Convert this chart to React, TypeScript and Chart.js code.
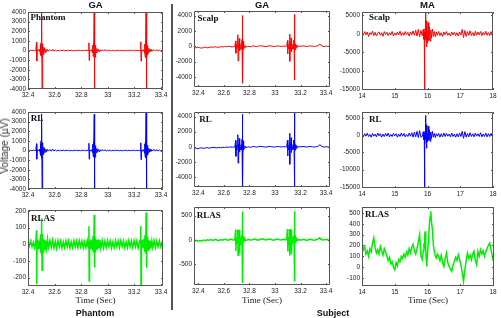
import React, { useEffect, useRef } from "react";
import { Chart, registerables } from "chart.js";

Chart.register(...registerables);

// ---------------- DATA ----------------
// Phantom recording (GA window), seconds
const phantomTime = [
  32.400, 32.410, 32.420, 32.430, 32.440, 32.450,
  32.459, 32.464, 32.466, 32.468, 32.470, 32.474, 32.479, 32.484, 32.488, 32.492,
  32.494, 32.496, 32.498, 32.500, 32.502, 32.504, 32.506, 32.508, 32.510, 32.512,
  32.514, 32.517, 32.520, 32.524, 32.529, 32.534, 32.540, 32.547, 32.554,
  32.565, 32.575, 32.585, 32.595, 32.605, 32.615, 32.625, 32.635, 32.645, 32.655,
  32.665, 32.675, 32.685, 32.695, 32.705, 32.715, 32.725, 32.735, 32.745, 32.755,
  32.765, 32.775, 32.785, 32.795, 32.805, 32.815, 32.825, 32.835, 32.845,
  32.853, 32.858, 32.860, 32.862, 32.864, 32.868, 32.873, 32.878, 32.882, 32.886,
  32.888, 32.890, 32.892, 32.894, 32.896, 32.898, 32.900, 32.902, 32.904, 32.906,
  32.908, 32.911, 32.914, 32.918, 32.923, 32.928, 32.934, 32.941, 32.948,
  32.958, 32.968, 32.978, 32.988, 32.998, 33.008, 33.018, 33.028, 33.038, 33.048,
  33.058, 33.068, 33.078, 33.088, 33.098, 33.108, 33.118, 33.128, 33.138, 33.148,
  33.158, 33.168, 33.178, 33.188, 33.198, 33.208, 33.218, 33.228, 33.238,
  33.243, 33.248, 33.250, 33.252, 33.254, 33.258, 33.263, 33.268, 33.272, 33.276,
  33.278, 33.280, 33.282, 33.284, 33.286, 33.288, 33.290, 33.292, 33.294, 33.296,
  33.298, 33.301, 33.304, 33.308, 33.313, 33.318, 33.324, 33.331, 33.338,
  33.348, 33.358, 33.368, 33.378, 33.388, 33.398, 33.408, 33.418,
];

const phantomGAValues = [
  20, -30, 40, -20, 30, -40,
  30, 850, -1100, -150, 60, -40, 80, -60, 150, -300, 600, -500, 800, -700, 400, 5000, -5000, 700, -650, 500,
  -450, 350, -300, 250, -200, 150, -120, 100, -60,
  90, -60, 120, -80, 60, -40, 30, -50, 40, -20, 30, -40, 20, -30, 40, -20, 30, -30, 20, -40,
  30, -20, 40, -30, 20, -30, 40, -20, 30,
  20, 800, -1050, -100, 50, -30, 60, -80, 120, -250, 550, -600, 750, -650, 350, 5000, -5000, 650, -700, 550,
  -400, 300, -250, 200, -180, 120, -100, 80, -50,
  80, -70, 100, -60, 50, -40, 40, -30, 30, -40, 20, -30, 40, -20, 30, -30, 20, -40, 30, -20,
  40, -30, 20, -30, 40, -20, 30, -20, 30,
  -20, 900, -1100, -120, 40, -50, 70, -50, 100, -280, 650, -550, 850, -750, 380, 5000, -5000, 750, -600, 520,
  -480, 330, -280, 230, -150, 130, -90, 70, -40,
  90, -60, 70, -50, 40, -30, 30, -20,
];

const phantomRLValues = [
  10, -40, 30, -30, 40, -20,
  20, 700, -900, -100, 50, -40, 80, -60, 150, -300, 700, -500, 1000, -800, 400, 3800, -3900, 800, -650, 500,
  -400, 350, -300, 220, -180, 150, -120, 100, -60,
  110, -80, 140, -60, 70, -50, 40, -40, 30, -30, 40, -30, 30, -20, 30, -40, 20, -30, 40, -20,
  30, -30, 20, -30, 40, -20, 30, -40, 20,
  30, 750, -900, -120, 60, -30, 60, -80, 120, -250, 650, -600, 900, -700, 350, 3750, -3950, 700, -700, 500,
  -400, 300, -250, 200, -160, 120, -100, 80, -50,
  100, -60, 80, -70, 40, -50, 30, -40, 30, -30, 40, -20, 30, -30, 20, -40, 30, -20, 40, -30,
  20, -30, 30, -20, 40, -30, 20, -30, 20,
  -20, 800, -950, -120, 40, -50, 70, -50, 100, -280, 700, -550, 950, -750, 380, 3900, -4000, 750, -600, 520,
  -480, 330, -280, 230, -150, 130, -90, 70, -40,
  120, -80, 90, -60, 50, -40, 30, -20,
];

const phantomRLASValues = [
  15, -12, 20, -15, 12, -20,
  20, 83, -240, 30, -20, 25, -30, 20, -25, 40, -50, 60, -40, 50, -60, 156, -155, 60, -50, 40,
  -45, 30, -35, 25, -30, 20, -25, 30, -20,
  22, -18, 25, -22, 18, -25, 22, -15, 20, -22, 15, -20, 22, -15, 20, -22, 15, -20, 22, -15,
  20, -20, 22, -15, 20, -22, 15, -20, 22,
  -20, 107, -220, 30, -25, 20, -30, 25, -20, 35, -40, 50, -45, 40, -50, 176, -140, 50, -45, 40,
  -30, 35, -30, 25, -25, 30, -20, 25, -25,
  22, -22, 20, -20, 22, -15, 20, -22, 15, -20, 22, -15, 20, -20, 22, -15, 20, -22, 15, -20,
  22, -15, 20, -20, 22, -15, 20, -22, 15,
  25, 107, -240, 25, -30, 25, -20, 30, -25, 40, -45, 55, -50, 45, -55, 190, -140, 55, -50, 45,
  -40, 30, -35, 25, -30, 20, -25, 20, -20,
  22, -20, 20, -15, 20, -15, 15, -12,
];

// Subject recording (GA window), seconds
const subjectTime = [
  32.366, 32.380, 32.395, 32.410, 32.425, 32.440, 32.455, 32.470, 32.485, 32.500,
  32.515, 32.530, 32.545, 32.560, 32.575, 32.590, 32.605, 32.620, 32.635, 32.650,
  32.665, 32.678,
  32.686, 32.692, 32.694, 32.696, 32.700, 32.706, 32.709, 32.711, 32.714, 32.718,
  32.720, 32.722, 32.726, 32.731, 32.736, 32.740, 32.742, 32.744, 32.746, 32.748,
  32.750, 32.753, 32.756, 32.760, 32.765, 32.771,
  32.783, 32.797, 32.811, 32.825, 32.840, 32.855, 32.870, 32.885, 32.900, 32.915,
  32.930, 32.945, 32.960, 32.975, 32.990, 33.005, 33.020, 33.035, 33.050, 33.065,
  33.080,
  33.092, 33.098, 33.100, 33.102, 33.106, 33.112, 33.115, 33.117, 33.120, 33.124,
  33.126, 33.128, 33.132, 33.137, 33.142, 33.146, 33.148, 33.150, 33.152, 33.154,
  33.156, 33.159, 33.162, 33.166, 33.171, 33.177,
  33.190, 33.205, 33.220, 33.235, 33.250, 33.265, 33.280, 33.295, 33.310, 33.325,
  33.340, 33.350, 33.360, 33.375, 33.390, 33.405, 33.420, 33.432,
];

const subjectGAValues = [
  -150, -200, -120, -180, -250, -150, -100, -200, -150, -80,
  -120, -60, -100, -150, -50, -80, -20, -60, 0, -40,
  -80, -30,
  -50, 700, -900, 200, -300, 300, 1500, -1900, 400, -400,
  1000, -600, 300, -400, 350, -300, 900, -400, 4000, -4800,
  700, -400, 300, -200, 100, -80,
  -50, 0, -80, 50, 20, -40, 30, 80, 40, 0,
  -50, 30, 60, 20, -30, 0, 50, 20, -20, 40,
  0,
  0, 750, -1000, 200, -350, 300, 1600, -1950, 450, -400,
  1100, -700, 350, -400, 300, -350, 800, -400, 4150, -4400,
  700, -450, 300, -200, 150, -60,
  40, 0, 60, 20, -30, 30, 50, 0, -20, 30,
  100, 300, 150, 0, -30, 20, -20, 10,
];

const subjectRLValues = [
  -200, -150, -250, -180, -120, -200, -150, -100, -180, -120,
  -60, -100, -140, -80, -120, -50, -90, -30, -60, -10,
  -50, -20,
  -30, 850, -1250, 200, -350, 300, 1600, -2150, 400, -450,
  1100, -700, 350, -400, 300, -350, 1000, -450, 4300, -5600,
  800, -450, 300, -200, 100, -80,
  -40, 10, -70, 40, 20, -30, 30, 70, 30, 0,
  -40, 30, 50, 20, -30, 0, 40, 20, -20, 30,
  0,
  0, 900, -1200, 200, -400, 300, 1800, -2300, 450, -400,
  1200, -750, 350, -400, 300, -350, 900, -450, 4700, -5600,
  800, -450, 300, -200, 150, -60,
  30, 0, 50, 20, -30, 30, 40, 0, -20, 30,
  100, 300, 150, 0, -30, 20, -20, 10,
];

const subjectRLASValues = [
  -20, -10, -30, -15, -25, -5, -20, 0, -10, 5,
  -15, 10, -5, -20, 5, -10, 10, 0, -10, 15,
  0, -5,
  0, 210, -230, 20, -40, 30, 210, -320, 40, -30,
  200, -280, 40, -50, 30, -40, 80, -60, 580, -890,
  80, -50, 30, -20, 15, -10,
  -5, 10, -10, 5, 15, 0, -10, 10, 20, 5,
  -5, 10, 15, 0, -10, 5, 15, 0, -5, 10,
  0,
  0, 220, -240, 20, -40, 30, 220, -330, 40, -30,
  210, -290, 40, -50, 30, -40, 80, -60, 590, -860,
  80, -50, 30, -20, 15, -10,
  5, -10, 10, 0, -15, 5, 10, -5, -10, 5,
  20, 40, 10, -5, 0, 10, -10, 5,
];

// Subject recording (MA window), seconds
const maTime = [
  14.00, 14.04, 14.08, 14.12, 14.16, 14.20, 14.24, 14.28, 14.32, 14.36,
  14.40, 14.44, 14.48, 14.52, 14.56, 14.60, 14.64, 14.68, 14.72, 14.76,
  14.80, 14.84, 14.88, 14.92, 14.96, 15.00, 15.04, 15.08, 15.12, 15.16,
  15.20, 15.24, 15.28, 15.32, 15.36, 15.40, 15.44, 15.48, 15.52, 15.56,
  15.60, 15.64, 15.68, 15.72, 15.76, 15.80,
  15.84, 15.87, 15.89, 15.90, 15.91, 15.92, 15.93, 15.94, 15.95, 15.96,
  15.97, 15.98, 16.00, 16.02, 16.04, 16.06, 16.08, 16.10, 16.12, 16.15,
  16.18, 16.21, 16.24, 16.27, 16.30,
  16.34, 16.38, 16.42, 16.46, 16.50, 16.54, 16.58, 16.62, 16.66, 16.70,
  16.74, 16.78, 16.82, 16.86, 16.90, 16.94, 16.98, 17.02, 17.06, 17.10,
  17.14, 17.18, 17.22, 17.26, 17.30, 17.34, 17.38, 17.42, 17.46, 17.50,
  17.54, 17.58, 17.62, 17.66, 17.70, 17.74, 17.78, 17.82, 17.86, 17.90,
  17.94, 17.98, 18.00,
];

const maScalpValues = [
  200, -400, 600, -300, 500, -700, 300, -200, 700, -500,
  400, -600, 200, 500, -400, 300, -700, 600, -200, 400,
  -500, 300, -300, 600, -600, 200, -400, 500, -300, 700,
  -500, 300, -400, 600, -200, 400, -600, 500, -300, 800,
  -400, 1000, -600, 1200, -800, 900,
  -500, 1200, -1500, 500, -15000, -2000, 1500, 5800, -1500, 3500,
  -3500, 2500, -2500, 3000, -1800, 1800, -2000, 1000, -1200, 1300,
  -700, 600, -800, 500, -400,
  600, -500, 300, -700, 500, -300, 600, -400, 200, -600,
  500, -300, 400, -500, 300, -600, 500, -300, 1200, -1000,
  900, -700, 600, -400, 800, -500, 300, -600, 700, -400,
  500, -300, 600, -500, 400, -300, 700, -400, 300, -500,
  600, -200, 300,
];

const maRLValues = [
  100, -500, 400, -300, 600, -400, 200, -600, 500, -300,
  300, -500, 600, -200, 400, -600, 300, -400, 500, -300,
  600, -500, 200, -400, 500, -200, 400, -600, 300, -400,
  600, -300, 500, -500, 200, -400, 600, -300, 700, -600,
  900, -500, 1100, -700, 1300, -600,
  -400, 1000, -1300, 600, -15000, -2500, 1200, 5700, -1200, 3000,
  -3800, 2200, -2000, 2600, -1500, 1500, -1800, 900, -1000, 1100,
  -600, 500, -700, 400, -300,
  500, -600, 400, -500, 600, -400, 500, -300, 300, -500,
  600, -400, 300, -600, 400, -500, 600, -400, 1100, -900,
  1000, -600, 500, -500, 700, -400, 400, -500, 600, -300,
  400, -400, 700, -500, 300, -400, 600, -500, 400, -400,
  500, -300, 200,
];

const maRLASValues = [
  210, 160, 190, 120, 150, 100, 170, 140, 220, 270,
  180, 130, 160, 120, 190, 150, 110, 170, 140, 100,
  60, 90, 30, 50, 0, -25, 40, 10, 70, 50,
  100, 80, 120, 90, 140, 110, 170, 130, 180, 210,
  150, 120, 170, 230, 300, 100,
  70, 150, 220, 180, 260, 300, 330, 250, 150, 80,
  30, 6, 120, 220, 300, 407, 470, 516, 420, 345,
  200, 145, 100, 83, 120,
  99, 60, 110, 40, 6, 80, 130, 40, 6, -20,
  -40, 20, 53, 90, 60, 114, 70, 21, -50, -132,
  -25, 60, 130, 80, 110, 68, 120, 145, 60, 21,
  145, 100, 160, 120, 150, 99, 140, 176, 200, 222,
  160, 99, 60,
];

// Tick values
const gaTimeTicks = [32.4, 32.6, 32.8, 33, 33.2, 33.4];
const maTimeTicks = [14, 15, 16, 17, 18];
const phantomVoltTicks = [-4000, -3000, -2000, -1000, 0, 1000, 2000, 3000, 4000];
const phantomRLASTicks = [-200, -100, 0, 100, 200];
const subjectVoltTicks = [-4000, -2000, 0, 2000, 4000];
const subjectRLASTicks = [-500, 0, 500];
const maVoltTicks = [-15000, -10000, -5000, 0, 5000];
const maRLASTicks = [-100, 0, 100, 200, 300, 400, 500];

// ---------------- LAYOUT ----------------
const SANS = "'Liberation Sans', Arial, Helvetica, sans-serif";
const SERIF = "'Liberation Serif', 'Times New Roman', serif";
const PAD_L = 34;
const PAD_T = 6;
const PAD_R = 10;
const PAD_B = 14;

type PanelSpec = {
  key: string;
  left: number; top: number; right: number; bottom: number;
  time: number[]; values: number[];
  xMin: number; xMax: number; xTicks: number[];
  yMin: number; yMax: number; yTicks: number[];
  color: string; lineWidth: number;
  label: string; labelX: number; labelY: number;
};

const RED = "#ff0000";
const BLUE = "#0000ff";
const GREEN = "#00ee00";

const panels: PanelSpec[] = [
  { key: "p1", left: 28, top: 12, right: 163, bottom: 89, time: phantomTime, values: phantomGAValues,
    xMin: 32.4, xMax: 33.415, xTicks: gaTimeTicks, yMin: -4000, yMax: 4000, yTicks: phantomVoltTicks,
    color: RED, lineWidth: 1, label: "Phantom", labelX: 30.5, labelY: 17 },
  { key: "p2", left: 194, top: 11, right: 330, bottom: 87, time: subjectTime, values: subjectGAValues,
    xMin: 32.366, xMax: 33.431, xTicks: gaTimeTicks, yMin: -5300, yMax: 4600, yTicks: subjectVoltTicks,
    color: RED, lineWidth: 1, label: "Scalp", labelX: 197.5, labelY: 18.3 },
  { key: "p3", left: 362, top: 12, right: 493, bottom: 90, time: maTime, values: maScalpValues,
    xMin: 14, xMax: 18, xTicks: maTimeTicks, yMin: -15200, yMax: 5900, yTicks: maVoltTicks,
    color: RED, lineWidth: 1, label: "Scalp", labelX: 369, labelY: 17.3 },
  { key: "p4", left: 28, top: 112, right: 163, bottom: 189, time: phantomTime, values: phantomRLValues,
    xMin: 32.4, xMax: 33.415, xTicks: gaTimeTicks, yMin: -4000, yMax: 4000, yTicks: phantomVoltTicks,
    color: BLUE, lineWidth: 1, label: "RL", labelX: 30.7, labelY: 118.3 },
  { key: "p5", left: 194, top: 112, right: 330, bottom: 187, time: subjectTime, values: subjectRLValues,
    xMin: 32.366, xMax: 33.431, xTicks: gaTimeTicks, yMin: -5300, yMax: 4600, yTicks: subjectVoltTicks,
    color: BLUE, lineWidth: 1, label: "RL", labelX: 199.3, labelY: 119.3 },
  { key: "p6", left: 362, top: 112, right: 493, bottom: 188, time: maTime, values: maRLValues,
    xMin: 14, xMax: 18, xTicks: maTimeTicks, yMin: -15300, yMax: 6700, yTicks: maVoltTicks,
    color: BLUE, lineWidth: 1, label: "RL", labelX: 369, labelY: 119 },
  { key: "p7", left: 28, top: 210, right: 163, bottom: 286, time: phantomTime, values: phantomRLASValues,
    xMin: 32.4, xMax: 33.415, xTicks: gaTimeTicks, yMin: -250, yMax: 205, yTicks: phantomRLASTicks,
    color: GREEN, lineWidth: 1.5, label: "RLAS", labelX: 31, labelY: 217.7 },
  { key: "p8", left: 194, top: 207, right: 330, bottom: 285, time: subjectTime, values: subjectRLASValues,
    xMin: 32.366, xMax: 33.431, xTicks: gaTimeTicks, yMin: -930, yMax: 675, yTicks: subjectRLASTicks,
    color: GREEN, lineWidth: 1.5, label: "RLAS", labelX: 196.7, labelY: 215 },
  { key: "p9", left: 362, top: 207, right: 494, bottom: 286, time: maTime, values: maRLASValues,
    xMin: 14, xMax: 18.03, xTicks: maTimeTicks, yMin: -175, yMax: 555, yTicks: maRLASTicks,
    color: GREEN, lineWidth: 1.5, label: "RLAS", labelX: 365, labelY: 214 },
];

const framePlugin = {
  id: "frameBox",
  afterDatasetsDraw(chart: any) {
    const { ctx, chartArea: a } = chart;
    const xs = chart.scales.x;
    const ys = chart.scales.y;
    ctx.save();
    ctx.strokeStyle = "#555555";
    ctx.lineWidth = 1;
    ctx.beginPath();
    ctx.rect(a.left + 0.5, a.top + 0.5, a.right - a.left - 1, a.bottom - a.top - 1);
    const tl = 2;
    for (const t of xs.ticks) {
      const p = Math.round(xs.getPixelForValue(t.value)) + 0.5;
      ctx.moveTo(p, a.bottom);
      ctx.lineTo(p, a.bottom - tl);
      ctx.moveTo(p, a.top);
      ctx.lineTo(p, a.top + tl);
    }
    for (const t of ys.ticks) {
      const p = Math.round(ys.getPixelForValue(t.value)) + 0.5;
      ctx.moveTo(a.left, p);
      ctx.lineTo(a.left + tl, p);
      ctx.moveTo(a.right, p);
      ctx.lineTo(a.right - tl, p);
    }
    ctx.stroke();
    ctx.restore();
  },
};

function Panel({ spec }: { spec: PanelSpec }) {
  const ref = useRef<HTMLCanvasElement | null>(null);
  const w = spec.right - spec.left + PAD_L + PAD_R;
  const h = spec.bottom - spec.top + PAD_T + PAD_B;

  useEffect(() => {
    if (!ref.current) return;
    const tickFont = { family: SANS, size: 6.5 };
    const chart = new Chart(ref.current, {
      type: "line",
      data: {
        datasets: [
          {
            data: spec.time.map((t, i) => ({ x: t, y: spec.values[i] })),
            borderColor: spec.color,
            borderWidth: spec.lineWidth,
            pointRadius: 0,
            tension: 0,
            fill: false,
          },
        ],
      },
      options: {
        animation: false,
        responsive: false,
        maintainAspectRatio: false,
        events: [],
        layout: { padding: { top: PAD_T, right: PAD_R, left: 0, bottom: 0 } },
        plugins: { legend: { display: false }, tooltip: { enabled: false }, title: { display: false } },
        scales: {
          x: {
            type: "linear",
            min: spec.xMin,
            max: spec.xMax,
            grid: { display: false, drawTicks: false },
            border: { display: false },
            ticks: {
              font: tickFont,
              color: "#222",
              padding: 2,
              maxRotation: 0,
              minRotation: 0,
              autoSkip: false,
              callback: (v: any) => String(v),
            },
            afterBuildTicks: (s: any) => {
              s.ticks = spec.xTicks.map((v) => ({ value: v }));
            },
            afterFit: (s: any) => {
              s.height = PAD_B;
              s.paddingLeft = 0;
              s.paddingRight = 0;
            },
          },
          y: {
            type: "linear",
            min: spec.yMin,
            max: spec.yMax,
            grid: { display: false, drawTicks: false },
            border: { display: false },
            ticks: {
              font: tickFont,
              color: "#222",
              padding: 2,
              autoSkip: false,
              callback: (v: any) => String(v),
            },
            afterBuildTicks: (s: any) => {
              s.ticks = spec.yTicks.map((v) => ({ value: v }));
            },
            afterFit: (s: any) => {
              s.width = PAD_L;
              s.paddingTop = 0;
              s.paddingBottom = 0;
            },
          },
        },
      },
      plugins: [framePlugin],
    } as any);
    return () => chart.destroy();
  }, []);

  return (
    <canvas
      ref={ref}
      width={w}
      height={h}
      style={{ position: "absolute", left: spec.left - PAD_L, top: spec.top - PAD_T, width: w, height: h }}
    />
  );
}

function Txt(props: { x: number; y: number; anchor?: "left" | "center"; style?: React.CSSProperties; children: React.ReactNode }) {
  const tx = props.anchor === "left" ? "0" : "-50%";
  return (
    <div
      style={{
        position: "absolute",
        left: props.x,
        top: props.y,
        transform: `translate(${tx}, -50%)`,
        whiteSpace: "nowrap",
        lineHeight: 1,
        ...props.style,
      }}
    >
      {props.children}
    </div>
  );
}

const columnTitles = [
  { text: "GA", x: 95.5 },
  { text: "GA", x: 262 },
  { text: "MA", x: 427.5 },
];
const timeLabelXs = [95.5, 262, 428];

export default function App() {
  const titleStyle: React.CSSProperties = { fontFamily: SANS, fontWeight: "bold", fontSize: 9.5, color: "#111" };
  const panelLabelStyle: React.CSSProperties = { fontFamily: SERIF, fontWeight: "bold", fontSize: 9, color: "#111" };
  const timeStyle: React.CSSProperties = { fontFamily: SERIF, fontSize: 9, color: "#222" };
  const groupStyle: React.CSSProperties = { fontFamily: SANS, fontWeight: "bold", fontSize: 9, color: "#111" };

  return (
    <div style={{ position: "absolute", left: 0, top: 0, width: 501, height: 318, overflow: "hidden", background: "#fff" }}>
      {panels.map((p) => (
        <Panel key={p.key} spec={p} />
      ))}
      {panels.map((p) => (
        <Txt key={p.key + "l"} x={p.labelX} y={p.labelY} anchor="left" style={panelLabelStyle}>
          {p.label}
        </Txt>
      ))}
      {columnTitles.map((c, i) => (
        <Txt key={"t" + i} x={c.x} y={5} style={titleStyle}>
          {c.text}
        </Txt>
      ))}
      {timeLabelXs.map((x, i) => (
        <Txt key={"x" + i} x={x} y={299.5} style={timeStyle}>
          Time (Sec)
        </Txt>
      ))}
      <Txt x={95} y={313} style={groupStyle}>Phantom</Txt>
      <Txt x={333} y={313} style={groupStyle}>Subject</Txt>
      <div
        style={{
          position: "absolute",
          left: 4.5,
          top: 146,
          transform: "translate(-50%, -50%) rotate(-90deg)",
          whiteSpace: "nowrap",
          lineHeight: 1,
          fontFamily: SANS,
          fontSize: 10,
          color: "#333",
        }}
      >
        Voltage (µV)
      </div>
      <div style={{ position: "absolute", left: 171, top: 4, width: 2, height: 306, background: "#555" }} />
    </div>
  );
}
